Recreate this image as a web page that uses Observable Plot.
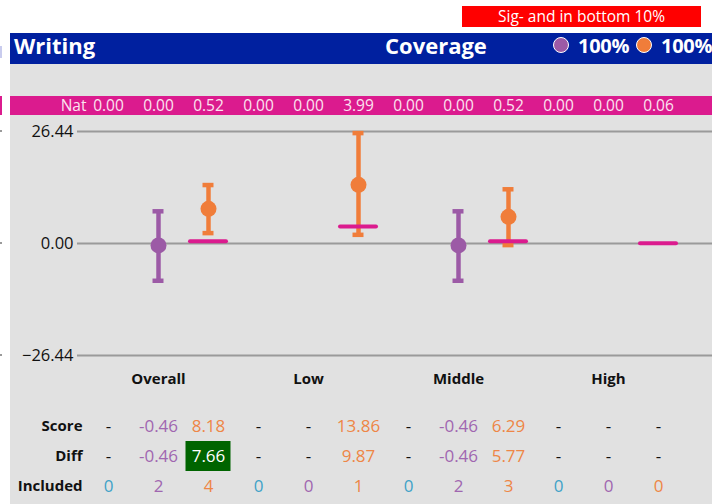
<!DOCTYPE html>
<html><head><meta charset="utf-8">
<script src="https://cdn.jsdelivr.net/npm/d3@7"></script>
<script src="https://cdn.jsdelivr.net/npm/@observablehq/plot@0.6"></script>
<style>
html,body{margin:0;padding:0;background:#fff}
body{width:712px;height:504px;overflow:hidden;position:relative;font-family:"Open Sans",sans-serif}
.abs{position:absolute}
.abs svg{display:block}
</style></head><body>
<script>
// ---------- data ----------
const categories = ["Overall", "Low", "Middle", "High"];
const seriesNames = ["Base", "Purple", "Orange"];
const seriesColors = ["#3EA2C8", "#9C5AA6", "#F07D3A"];
const seriesTextColors = ["#3EA2C8", "#A066B0", "#EE8646"];
const natValues = [0.00, 0.00, 0.52, 0.00, 0.00, 3.99, 0.00, 0.00, 0.52, 0.00, 0.00, 0.06];
const natLine = [0.52, 3.99, 0.52, 0.06];
const purpleScore = [-0.46, null, -0.46, null];
const purpleLow = [-8.8, null, -8.8, null];
const purpleHigh = [7.6, null, 7.6, null];
const orangeScore = [8.18, 13.86, 6.29, null];
const orangeLow = [2.45, 2.05, -0.38, null];
const orangeHigh = [13.8, 26.06, 12.8, null];
const scoreLabels = ["-", "-0.46", "8.18", "-", "-", "13.86", "-", "-0.46", "6.29", "-", "-", "-"];
const diffLabels = ["-", "-0.46", "7.66", "-", "-", "9.87", "-", "-0.46", "5.77", "-", "-", "-"];
const includedCounts = [0, 2, 4, 0, 0, 1, 0, 2, 3, 0, 0, 0];
const diffHighlight = [false, false, true, false, false, false, false, false, false, false, false, false];
const yTicks = [-26.44, 0, 26.44];
const rowLabels = ["Score", "Diff", "Included"];
const coverageValues = ["100%", "100%"];
const title = "Writing";
const coverageTitle = "Coverage";
const flagText = "Sig- and in bottom 10%";

// ---------- derived tables ----------
const columns = categories.flatMap(c => seriesNames.map(s => c + "|" + s));
const colIndex = (ci, si) => ci * 3 + si;
const points = [];
categories.forEach((c, i) => {
  if (purpleScore[i] != null) points.push({col: columns[colIndex(i, 1)], score: purpleScore[i], low: purpleLow[i], high: purpleHigh[i], color: seriesColors[1]});
  if (orangeScore[i] != null) points.push({col: columns[colIndex(i, 2)], score: orangeScore[i], low: orangeLow[i], high: orangeHigh[i], color: seriesColors[2]});
});
const natData = categories.map((c, i) => ({col: columns[colIndex(i, 2)], v: natLine[i]}));
const natText = columns.map((col, i) => ({col, text: natValues[i].toFixed(2)}));
const tableCells = [];
columns.forEach((col, i) => {
  const si = i % 3;
  tableCells.push({col, row: "Score", text: scoreLabels[i], color: scoreLabels[i] === "-" ? "#111" : seriesTextColors[si]});
  tableCells.push({col, row: "Diff", text: diffLabels[i], color: diffHighlight[i] ? "#fff" : (diffLabels[i] === "-" ? "#111" : seriesTextColors[si])});
  tableCells.push({col, row: "Included", text: String(includedCounts[i]), color: seriesTextColors[si]});
});
const highlightCells = columns.map((col, i) => ({col, row: "Diff", on: diffHighlight[i]})).filter(d => d.on);

const xScale = {type: "band", domain: columns, paddingInner: 0, paddingOuter: 0.35, align: 6 / 35, axis: null};
const common = {width: 712, marginLeft: 77, marginRight: 0, style: {background: "transparent", fontFamily: "Open Sans", overflow: "visible"}};

function place(el, left, top) {
  const d = document.createElement("div");
  d.className = "abs"; d.style.left = left + "px"; d.style.top = top + "px";
  d.appendChild(el); document.body.appendChild(d); return d;
}
function box(left, top, w, h, bg, html, css) {
  const d = document.createElement("div");
  d.className = "abs";
  Object.assign(d.style, {left: left + "px", top: top + "px", width: w + "px", height: h + "px", background: bg}, css || {});
  if (html) d.innerHTML = html;
  document.body.appendChild(d); return d;
}

// ---------- background / header (HTML) ----------
box(10, 33, 702, 471, "#E1E1E1");
box(0, 46, 2, 12, "#C9CCEE");
box(0, 96, 2, 19, "#DB1B8E");
[130, 242, 354].forEach(t => box(0, t, 2, 2, "#9a9a9a"));
box(462, 6, 239, 21, "#FF0000", flagText, {color: "#fff", fontSize: "15.5px", lineHeight: "21px", textAlign: "center"});
box(10, 33, 702, 31, "#00209F");
box(14, 30, 200, 30, "transparent", title, {color: "#fff", fontSize: "22px", fontWeight: "bold", lineHeight: "30px"});
box(385, 30, 140, 30, "transparent", coverageTitle, {color: "#fff", fontSize: "22px", fontWeight: "bold", lineHeight: "30px"});
const legendX = [553, 636];
coverageValues.forEach((v, i) => {
  box(legendX[i], 37, 14, 14, seriesColors[i + 1], "", {borderRadius: "50%", border: "1.5px solid #fff"});
  box(legendX[i] + 25, 31, 712 - legendX[i] - 25, 30, "transparent", v, {color: "#fff", fontSize: "20px", fontWeight: "bold", lineHeight: "30px", whiteSpace: "nowrap", letterSpacing: "-0.3px"});
});
box(10, 96, 702, 19, "#DB1B8E");

// ---------- Nat row ----------
place(Plot.plot({
  ...common, height: 19, marginTop: 0, marginBottom: 0,
  x: xScale, y: {type: "band", domain: ["Nat"], padding: 0, axis: null},
  marks: [
    Plot.axisY({tickSize: 0, tickPadding: 0, dx: 9, fontSize: 15.5, fill: "#FBE3F0", label: null}),
    Plot.text(natText, {x: "col", y: () => "Nat", text: "text", fill: "#FBE3F0", fontSize: 15.5})
  ]
}), 0, 96);

// ---------- chart ----------
place(Plot.plot({
  ...common, height: 280, marginTop: 16, marginBottom: 40,
  x: xScale, y: {domain: [-26.44, 26.44], axis: null},
  color: {type: "identity"},
  marks: [
    Plot.ruleY(yTicks, {stroke: "#9A9A9A", strokeWidth: 2}),
    Plot.axisY(yTicks, {tickSize: 0, tickPadding: 4, tickFormat: d3.format(".2f"), fontSize: 16.5, fill: "#111", label: null}),
    Plot.axisX(categories.map((c, i) => columns[colIndex(i, 1)]), {tickSize: 0, tickPadding: 18, tickFormat: d => d.split("|")[0], fontSize: 15, fontWeight: "bold", fill: "#111", label: null}),
    Plot.ruleX(points, {x: "col", y1: "low", y2: "high", stroke: "color", strokeWidth: 4.5}),
    Plot.tickY(points, {x: "col", y: "low", stroke: "color", strokeWidth: 4.5, insetLeft: 19.5, insetRight: 19.5}),
    Plot.tickY(points, {x: "col", y: "high", stroke: "color", strokeWidth: 4.5, insetLeft: 19.5, insetRight: 19.5}),
    Plot.dot(points, {x: "col", y: "score", r: 8, fill: "color"}),
    Plot.tickY(natData, {x: "col", y: "v", stroke: "#DB1B8E", strokeWidth: 4, strokeLinecap: "round", insetLeft: 7, insetRight: 7})
  ]
}), 0, 115);

// ---------- table ----------
place(Plot.plot({
  ...common, height: 109, marginTop: 16, marginBottom: 3,
  x: xScale, y: {type: "band", domain: rowLabels, padding: 0, axis: null},
  color: {type: "identity"},
  marks: [
    Plot.cell(highlightCells, {x: "col", y: "row", fill: "#006400", insetLeft: 2.5, insetRight: 2.5}),
    Plot.text(tableCells, {x: "col", y: "row", text: "text", fill: "color", fontSize: 17}),
    Plot.axisY({tickSize: 0, tickPadding: 0, dx: 5, fontSize: 15, fontWeight: "bold", fill: "#111", label: null})
  ]
}), 0, 395);
</script>
</body></html>
